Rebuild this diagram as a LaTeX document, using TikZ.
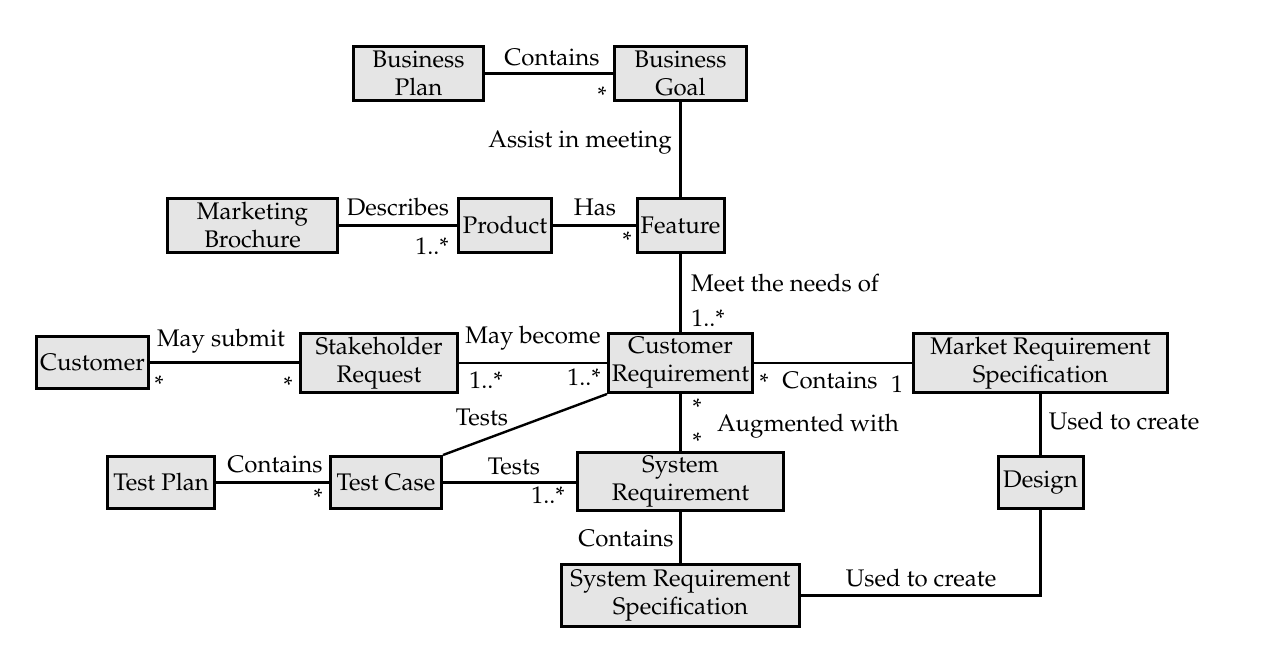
\documentclass[tikz,border=0pt]{standalone}
\usepackage[T1]{fontenc}
\usepackage{mathpazo}
\begin{document}
\begin{tikzpicture}[x=0.5pt,y=-0.5pt,
  box/.style={draw, line width=1.5pt, fill=gray!20, inner sep=0pt, align=center, font=\fontsize{12}{14}\selectfont},
  lbl/.style={inner sep=0pt, font=\fontsize{12}{14}\selectfont},
  conn/.style={line width=1.2pt}]
\useasboundingbox (0,0) rectangle (1266,650);
% nodes
\node[box, minimum width=65pt, minimum height=27pt] (bp) at (418.5,73.5) {Business\\Plan};
\node[box, minimum width=66pt, minimum height=27pt] (bg) at (680.5,73.5) {Business\\Goal};
\node[box, minimum width=85pt, minimum height=27pt] (mb) at (252.5,225.5) {Marketing\\Brochure};
\node[box, minimum width=46.5pt, minimum height=27pt] (pr) at (505,225.5) {Product};
\node[box, minimum width=43.5pt, minimum height=27pt] (fe) at (680.5,225.5) {Feature};
\node[box, minimum width=56pt, minimum height=26pt] (cu) at (92.5,362.5) {Customer};
\node[box, minimum width=78.5pt, minimum height=29.5pt] (sr) at (379,363) {Stakeholder\\Request};
\node[box, minimum width=72pt, minimum height=29.5pt] (cr) at (680.5,363) {Customer\\Requirement};
\node[box, minimum width=127pt, minimum height=29.5pt] (mrs) at (1040.5,363) {Market Requirement\\Specification};
\node[box, minimum width=53.5pt, minimum height=26pt] (tp) at (161,482.5) {Test Plan};
\node[box, minimum width=55.5pt, minimum height=26pt] (tc) at (386,482.5) {Test Case};
\node[box, minimum width=103pt, minimum height=29pt] (sys) at (680.5,481.5) {System\\Requirement};
\node[box, minimum width=42.5pt, minimum height=26pt] (de) at (1040.5,482.5) {Design};
\node[box, minimum width=119pt, minimum height=31pt] (srs) at (680.5,595.5) {System Requirement\\Specification};
% connectors
\draw[conn] (bp.east) -- (bp.east -| bg.west);
\draw[conn] (bg.south) -- (fe.north);
\draw[conn] (mb.east) -- (pr.west);
\draw[conn] (pr.east) -- (fe.west);
\draw[conn] (fe.south) -- (cr.north);
\draw[conn] (cu.east) -- (cu.east -| sr.west);
\draw[conn] (sr.east) -- (cr.west);
\draw[conn] (cr.east) -- (mrs.west);
\draw[conn] (cr.south) -- (sys.north);
\draw[conn] (tc.north east) -- (cr.south west);
\draw[conn] (tp.east) -- (tc.west);
\draw[conn] (tc.east) -- (tc.east -| sys.west);
\draw[conn] (mrs.south) -- (de.north);
\draw[conn] (sys.south) -- (srs.north);
\coordinate (corner) at (de.south |- srs.east);
\draw[conn] (srs.east) -- (corner) -- (de.south);
% labels
\node[lbl] (l1) at (552,57) {Contains};
\node[lbl] (l2) at (602,95) {*};
\node[lbl] (l3) at (580,143) {Assist in meeting};
\node[lbl] (l4) at (398,207) {Describes};
\node[lbl] (l5) at (432,246) {1..*};
\node[lbl] (l6) at (595,207) {Has};
\node[lbl] (l7) at (627,240) {*};
\node[lbl] (l8) at (785,283) {Meet the needs of};
\node[lbl] (l9) at (708,318) {1..*};
\node[lbl] (l10) at (221,341) {May submit};
\node[lbl] (l11) at (159,384) {*};
\node[lbl] (l12) at (288,385) {*};
\node[lbl] (l13) at (533,338) {May become};
\node[lbl] (l14) at (486,380) {1..*};
\node[lbl] (l15) at (584,377) {1..*};
\node[lbl] (l16) at (764,382) {*};
\node[lbl] (l17) at (830,380) {Contains};
\node[lbl] (l18) at (897,384) {1};
\node[lbl] (l19) at (697,407) {*};
\node[lbl] (l20) at (808,426) {Augmented with};
\node[lbl] (l21) at (697,441) {*};
\node[lbl] (l22) at (482,417) {Tests};
\node[lbl] (l23) at (275,464) {Contains};
\node[lbl] (l24) at (318,497) {*};
\node[lbl] (l25) at (514,466) {Tests};
\node[lbl] (l26) at (548,495) {1..*};
\node[lbl] (l27) at (1124,421) {Used to create};
\node[lbl] (l28) at (626,538) {Contains};
\node[lbl] (l29) at (921,578) {Used to create};
\end{tikzpicture}
\end{document}
